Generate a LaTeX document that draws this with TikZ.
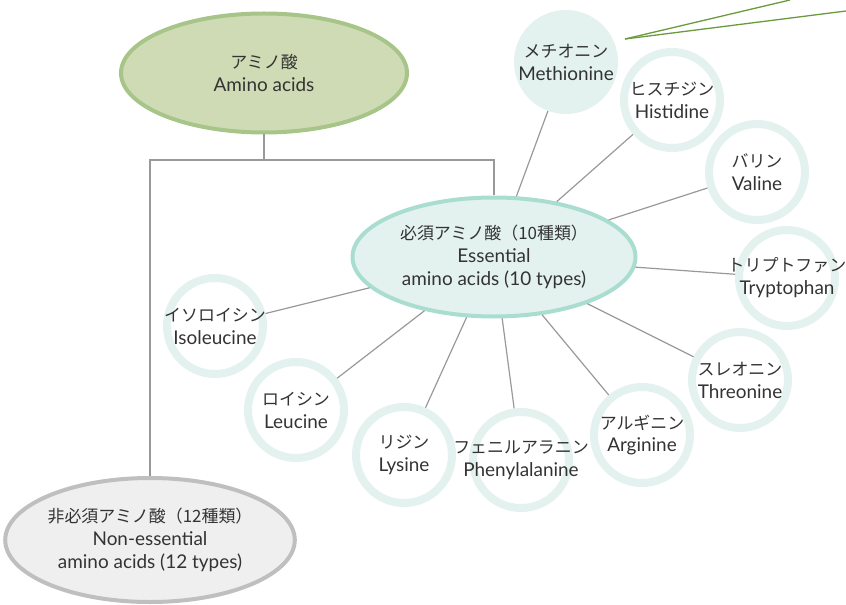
\documentclass[tikz,border=0pt]{standalone}
\usepackage{fontspec}
\setmainfont{Lato}
\newfontfamily\jp{Noto Sans CJK JP}
\usetikzlibrary{positioning, shapes.geometric}
\definecolor{aminoGreen}{HTML}{A8C589}
\definecolor{aminoGreenSoft}{HTML}{CFDBB5}
\definecolor{essTeal}{HTML}{A9DDD0}
\definecolor{essTealSoft}{HTML}{E3F2EE}
\definecolor{ringTeal}{HTML}{E3F2EE}
\definecolor{nonGray}{HTML}{BFBFBF}
\definecolor{nonGraySoft}{HTML}{EFEFEF}
\definecolor{lineGray}{HTML}{999999}
\definecolor{leafGreen}{HTML}{6A9A3C}
\definecolor{textDark}{HTML}{333333}
\newcommand\jpText[1]{{\jp\fontsize{17}{23}\selectfont #1}}

\begin{document}
\begin{tikzpicture}[x=1bp, y=-1bp,
    every node/.style={text=textDark, align=center, font=\fontsize{19}{23}\selectfont},
    groupTop/.style={draw=aminoGreen, line width=4bp, ellipse, inner sep=0pt, fill=aminoGreenSoft, minimum width=286bp, minimum height=119bp},
    groupEss/.style={draw=essTeal, line width=4bp, ellipse, inner sep=0pt, fill=essTealSoft, minimum width=283bp, minimum height=119bp},
    groupNon/.style={draw=nonGray, line width=4bp, ellipse, inner sep=0pt, fill=nonGraySoft, minimum width=282bp, minimum height=124bp},
    acid/.style={draw=ringTeal, line width=8bp, circle, minimum size=96bp, inner sep=-30bp},
    acidSolid/.style={fill=ringTeal, circle, minimum size=104bp, inner sep=-30bp},
    line/.style={draw=lineGray, line width=1.2bp},
    leaf/.style={draw=leafGreen, line width=1.3bp},
]
\useasboundingbox (0,0) rectangle (846,605);
\node[groupTop] (amino)        at (264, 73)  {\jpText{アミノ酸}\\Amino acids};
\node[groupEss] (essential)    at (494, 257) {\jpText{必須アミノ酸（10種類）}\\Essential\\amino acids (10 types)};
\node[groupNon] (nonessential) at (150, 540) {\jpText{非必須アミノ酸（12種類）}\\Non-essential\\amino acids (12 types)};
\node[acidSolid] (methionine)    at (566, 62)  {\jpText{メチオニン}\\Methionine};
\node[acid]      (histidine)     at (672, 100) {\jpText{ヒスチジン}\\Histidine};
\node[acid]      (valine)        at (757, 172) {\jpText{バリン}\\Valine};
\node[acid]      (tryptophan)    at (787, 278) {\jpText{トリプトファン}\\Tryptophan};
\node[acid]      (threonine)     at (740, 380) {\jpText{スレオニン}\\Threonine};
\node[acid]      (arginine)      at (642, 435) {\jpText{アルギニン}\\Arginine};
\node[acid]      (phenylalanine) at (521, 460) {\jpText{フェニルアラニン}\\Phenylalanine};
\node[acid]      (lysine)        at (404, 455) {\jpText{リジン}\\Lysine};
\node[acid]      (leucine)       at (296, 410) {\jpText{ロイシン}\\Leucine};
\node[acid]      (isoleucine)    at (215, 326) {\jpText{イソロイシン}\\Isoleucine};
\coordinate (split) at (264, 160);
\draw[line] (amino) -- (split);
\draw[line] (split) -| (nonessential);
\draw[line] (split) -| (essential);
\foreach \acidName in {methionine, histidine, valine, tryptophan, threonine,
                       arginine, phenylalanine, lysine, leucine, isoleucine}
    \draw[line] (essential) -- (\acidName);
\coordinate (leafRoot) at (625, 39);
\coordinate (leafTipA) at (790, 0);
\coordinate (leafTipB) at (846, 11);
\draw[leaf] (leafRoot) -- (leafTipA);
\draw[leaf] (leafRoot) -- (leafTipB);
\end{tikzpicture}
\end{document}
